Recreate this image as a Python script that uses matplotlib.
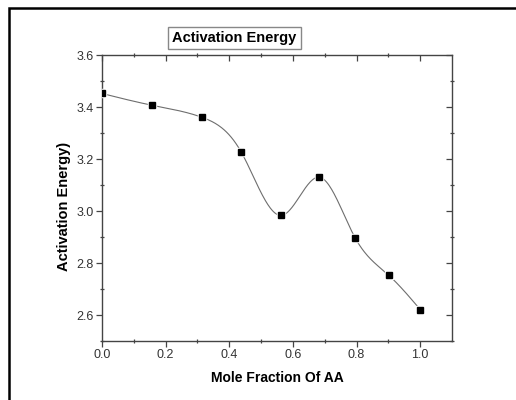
import numpy as np
import matplotlib
matplotlib.use("Agg")
import matplotlib.pyplot as plt
from matplotlib.patches import Rectangle

plt.rcParams['font.family'] = ['Liberation Sans', 'DejaVu Sans']

# mole fraction of AA vs activation energy
mole_frac = [0.0, 0.156, 0.315, 0.437, 0.564, 0.683, 0.795, 0.901, 1.0]
act_energy = [3.452, 3.407, 3.360, 3.228, 2.983, 3.130, 2.898, 2.753, 2.621]


def natural_spline(x, y, xs):
    # natural cubic spline through (x, y), evaluated at xs
    x = np.asarray(x, float)
    y = np.asarray(y, float)
    n = len(x)
    h = np.diff(x)
    A = np.zeros((n, n))
    b = np.zeros(n)
    A[0, 0] = 1.0
    A[-1, -1] = 1.0
    for i in range(1, n - 1):
        A[i, i - 1] = h[i - 1]
        A[i, i] = 2 * (h[i - 1] + h[i])
        A[i, i + 1] = h[i]
        b[i] = 6 * ((y[i + 1] - y[i]) / h[i] - (y[i] - y[i - 1]) / h[i - 1])
    M = np.linalg.solve(A, b)
    idx = np.clip(np.searchsorted(x, xs) - 1, 0, n - 2)
    x0, x1 = x[idx], x[idx + 1]
    hh = x1 - x0
    t0 = x1 - xs
    t1 = xs - x0
    return (M[idx] * t0**3 / (6 * hh) + M[idx + 1] * t1**3 / (6 * hh)
            + (y[idx] / hh - M[idx] * hh / 6) * t0
            + (y[idx + 1] / hh - M[idx + 1] * hh / 6) * t1)


W, H = 516, 400
fig = plt.figure(figsize=(W / 100, H / 100), dpi=100)
ax = fig.add_axes([102 / W, 1 - 341 / H, 350 / W, 286 / H])

xs = np.linspace(mole_frac[0], mole_frac[-1], 400)
ax.plot(xs, natural_spline(mole_frac, act_energy, xs), color='#6e6e6e', lw=0.8, zorder=2)
ax.plot(mole_frac, act_energy, 's', ms=6.2, mfc='white', mec='white', zorder=3)
ax.plot(mole_frac, act_energy, 's', ms=4.3, mfc='black', mec='black', zorder=4)

ax.set_xlim(0, 1.1)
ax.set_ylim(2.5, 3.6)
ax.set_xticks(np.arange(0, 1.01, 0.2))
ax.set_xticks(np.arange(0.1, 1.1, 0.2), minor=True)
ax.set_yticks(np.arange(2.6, 3.61, 0.2))
ax.set_yticks(np.arange(2.5, 3.6, 0.2), minor=True)
ax.xaxis.set_major_formatter(plt.FormatStrFormatter('%.1f'))
ax.yaxis.set_major_formatter(plt.FormatStrFormatter('%.1f'))

for s in ax.spines.values():
    s.set_color('#444444')
    s.set_linewidth(1.0)
ax.tick_params(which='major', direction='out', length=4, width=0.9, color='#444444',
               labelsize=9, labelcolor='#333333', pad=2)
ax.tick_params(which='minor', direction='inout', length=3, width=0.9, color='#444444')
ax.tick_params(which='both', top=True, right=True)
ax.tick_params(axis='both', which='major', labeltop=False, labelright=False)
# inward ticks on the top and right spines
for t in ax.xaxis.get_major_ticks():
    t.tick2line.set_marker(3)
for t in ax.yaxis.get_major_ticks():
    t.tick2line.set_marker(0)

ax.set_xlabel('Mole Fraction Of AA', fontsize=10, fontweight='bold', labelpad=7)
ax.set_ylabel('Activation Energy)', fontsize=10.5, fontweight='bold')
ax.yaxis.set_label_coords(-0.088, 0.472)

fig.text(234 / W, 1 - 38 / H, 'Activation Energy', ha='center', va='center',
         fontsize=10.5, fontweight='bold',
         bbox=dict(boxstyle='square,pad=0.3', fc='white', ec='#888888', lw=1.0))

# outer frame
fig.patches.append(Rectangle((9 / W, -0.1), 1.2, 1 - 8 / H + 0.1, transform=fig.transFigure,
                             fill=False, ec='black', lw=1.8))

fig.savefig('out.png', dpi=100)
